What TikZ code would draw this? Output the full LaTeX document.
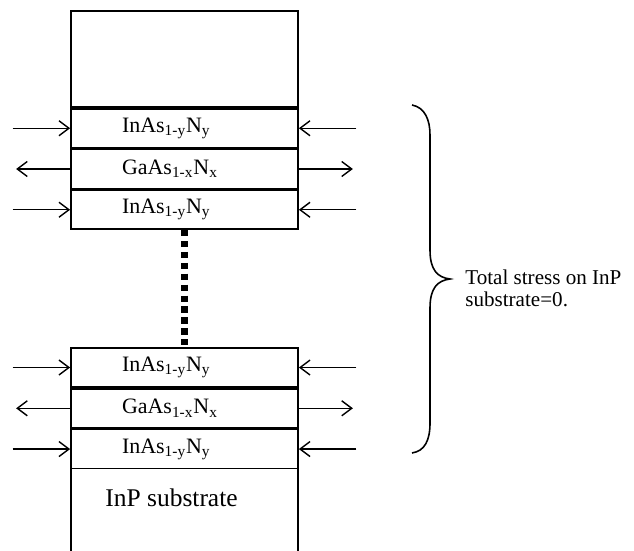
\documentclass[tikz,border=0pt]{standalone}
\usepackage{fontspec}
\setmainfont{Liberation Serif}
\usetikzlibrary{positioning,arrows.meta}

\tikzset{
  layer/.style={draw,line width=1pt,minimum height=.78cm,text width=2.5cm,inner xsep=1.02cm,inner ysep=0pt,align=left,font=\fontsize{12.5}{15}\selectfont},
  push/.style={line width=.8pt,-{Straight Barb[length=2mm,width=3mm]}},
  dots/.style={line width=3.6pt,dash pattern=on 3.6pt off 2.6pt}
}

\begin{document}
\begin{tikzpicture}
\useasboundingbox (0,0) rectangle (12.68,11);
% cap layer and first stack
\node[draw,line width=1pt,minimum width=4.54cm,minimum height=1.92cm] (cap) at (3.69,9.82) {};
\node[layer,below=0pt of cap] (l1) {InAs\textsubscript{1-y}N\textsubscript{y}};
\node[layer,below=0pt of l1] (l2) {GaAs\textsubscript{1-x}N\textsubscript{x}};
\node[layer,below=0pt of l2] (l3) {InAs\textsubscript{1-y}N\textsubscript{y}};
% second stack
\node[layer,below=2.34cm of l3] (l4) {InAs\textsubscript{1-y}N\textsubscript{y}};
\node[layer,below=0pt of l4] (l5) {GaAs\textsubscript{1-x}N\textsubscript{x}};
\node[layer,below=0pt of l5] (l6) {InAs\textsubscript{1-y}N\textsubscript{y}};
% substrate, open at the bottom
\node[minimum width=4.54cm,minimum height=1.84cm,below=0pt of l6] (sub) {};
\draw[line width=1pt] (sub.north west) -- (sub.south west);
\draw[line width=1pt] (sub.north east) -- (sub.south east);
\node[font=\fontsize{14.5}{17}\selectfont,anchor=west,inner sep=0pt] (subname) at (2.1,1.04) {InP substrate};
\draw[dots] (l3.south) -- (l4.north);
% compressive and tensile arrows
\foreach \l in {l1,l3,l4,l6}{
  \draw[push] ([xshift=-1.15cm]\l.west) -- (\l.west);
  \draw[push] ([xshift=1.15cm]\l.east) -- (\l.east);
}
\foreach \l in {l2,l5}{
  \draw[push] (\l.west) -- ([xshift=-1.08cm]\l.west);
  \draw[push] (\l.east) -- ([xshift=1.08cm]\l.east);
}
% brace
\draw[line width=.9pt] (8.24,8.9) .. controls (8.5,8.85) and (8.6,8.6) .. (8.6,8.3) -- (8.6,6.0) .. controls (8.6,5.6) and (8.75,5.45) .. (9.0,5.42) .. controls (8.75,5.39) and (8.6,5.24) .. (8.6,4.84) -- (8.6,2.54) .. controls (8.6,2.2) and (8.5,1.98) .. (8.24,1.94);
\node[anchor=west,align=left,inner sep=0pt,font=\fontsize{12}{12.4}\selectfont] (note) at (9.3,5.24) {Total stress on InP\\substrate=0.};
\end{tikzpicture}
\end{document}
